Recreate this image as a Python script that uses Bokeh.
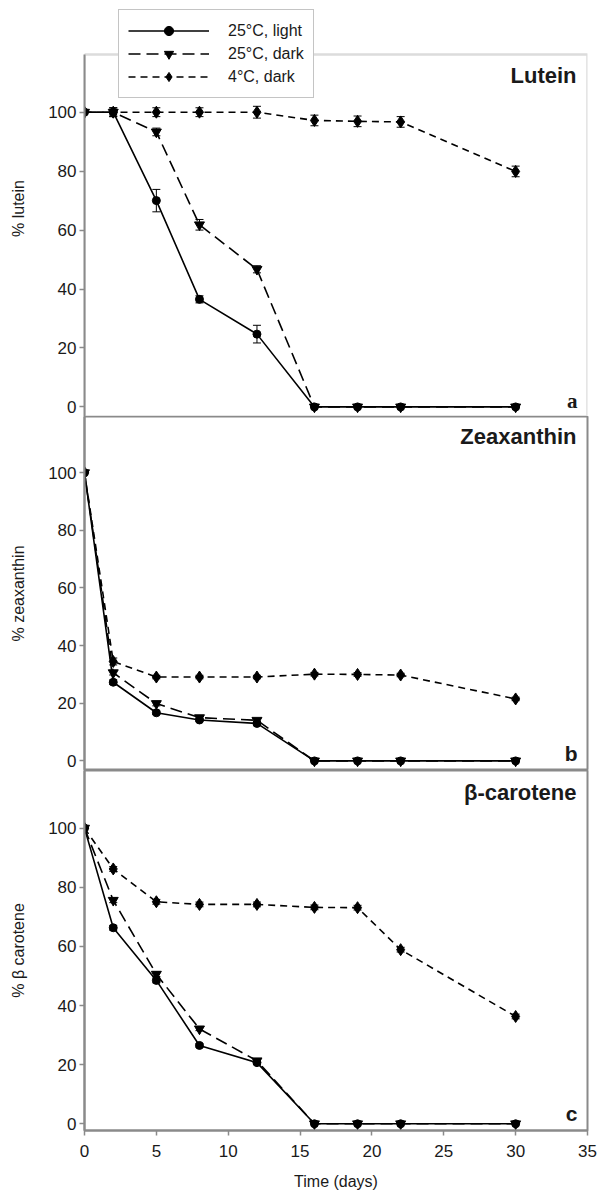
import numpy as np
import pandas as pd
from bokeh.plotting import figure
from bokeh.layouts import column
from bokeh.models import (ColumnDataSource, Whisker, TeeHead, FixedTicker, Label,
                          Legend, LegendItem, Range1d, BoxAnnotation)
from bokeh.embed import file_html
from bokeh.resources import INLINE

# ---------------- data ----------------
days = [0, 2, 5, 8, 12, 16, 19, 22, 30]
series_names = ["25°C, light", "25°C, dark", "4°C, dark"]
x_ticks = [0, 5, 10, 15, 20, 25, 30, 35]
y_ticks = [0, 20, 40, 60, 80, 100]

lutein_light = [100, 100, 70.0, 36.5, 24.7, 0, 0, 0, 0]
lutein_light_err = [0, 1.0, 3.8, 1.2, 3.0, 0, 0, 0, 0]
lutein_dark = [100, 100, 93.3, 61.8, 46.7, 0, 0, 0, 0]
lutein_dark_err = [0, 1.5, 1.3, 1.8, 1.2, 0, 0, 0, 0]
lutein_cold = [100, 100, 100, 100, 100, 97.2, 96.9, 96.7, 79.9]
lutein_cold_err = [0, 1.5, 1.5, 1.5, 2.0, 1.8, 1.8, 1.8, 1.8]

zea_light = [100, 27.3, 16.7, 14.2, 13.0, 0, 0, 0, 0]
zea_light_err = [0, 0.8, 0.6, 0.5, 0.5, 0, 0, 0, 0]
zea_dark = [100, 30.6, 19.9, 15.0, 14.1, 0, 0, 0, 0]
zea_dark_err = [0, 0.8, 0.8, 0.6, 0.6, 0, 0, 0, 0]
zea_cold = [100, 34.5, 29.1, 29.1, 29.1, 30.1, 30.0, 29.8, 21.5]
zea_cold_err = [0, 1.2, 0.6, 0.6, 0.6, 0.6, 0.6, 0.6, 0.6]

beta_light = [100, 66.3, 48.5, 26.5, 20.7, 0, 0, 0, 0]
beta_light_err = [0, 0.8, 0.8, 0.6, 0.6, 0, 0, 0, 0]
beta_dark = [100, 75.6, 50.6, 32.1, 21.3, 0, 0, 0, 0]
beta_dark_err = [0, 0.8, 0.8, 0.6, 0.6, 0, 0, 0, 0]
beta_cold = [100, 86.2, 75.1, 74.2, 74.2, 73.2, 73.1, 58.9, 36.3]
beta_cold_err = [0, 0.8, 0.8, 0.8, 0.8, 0.8, 0.8, 0.8, 0.8]

# ---------------- style ----------------
FONT = "Liberation Sans"
TXT = "#1a1a1a"
GRAY = "#8a8a8a"
dashes = ["solid", "12 6", "7 5"]
markers = ["circle", "inverted_triangle", "diamond"]
msizes = [8, 10, 12]

LEFT, RIGHT = 84, 13
FRAME_W = 503


def style_axis(ax, label):
    ax.axis_label = label
    ax.axis_label_text_font = FONT
    ax.axis_label_text_font_size = "16px"
    ax.axis_label_text_font_style = "normal"
    ax.axis_label_text_color = TXT
    ax.major_label_text_font = FONT
    ax.major_label_text_font_size = "17px"
    ax.major_label_text_color = TXT
    ax.axis_line_color = GRAY
    ax.axis_line_width = 2
    ax.major_tick_line_color = GRAY
    ax.major_tick_line_width = 1.5
    ax.major_tick_out = 5
    ax.major_tick_in = 0
    ax.minor_tick_line_color = None


def make_panel(vals, errs, ylabel, title, letter, letter_font, frame_h, yr,
               box_top, title_y, letter_y, bottom, show_x, with_legend):
    p = figure(frame_width=FRAME_W, frame_height=frame_h,
               x_range=Range1d(0, 35), y_range=Range1d(*yr),
               output_backend="svg", toolbar_location=None,
               x_axis_location="below" if show_x else None,
               min_border_left=LEFT, min_border_right=RIGHT,
               min_border_top=0, min_border_bottom=bottom,
               background_fill_color="white", border_fill_color="white")
    p.xgrid.visible = False
    p.ygrid.visible = False

    if box_top is None:
        p.outline_line_color = GRAY
        p.outline_line_width = 2
    else:
        # panel frame drawn as a box inside an extended plotting area
        p.outline_line_color = None
        p.add_layout(BoxAnnotation(left=0, right=35, bottom=yr[0], top=box_top,
                                   fill_alpha=0, line_color=GRAY, line_width=2.5))

    ax = p.yaxis[0]
    style_axis(ax, ylabel)
    ax.ticker = FixedTicker(ticks=y_ticks)
    ax.axis_label_standoff = 18
    ax.major_label_standoff = 3
    if box_top is not None:
        ax.bounds = (yr[0], box_top)

    if show_x:
        xa = p.xaxis[0]
        style_axis(xa, "Time (days)")
        xa.ticker = FixedTicker(ticks=x_ticks)
        xa.axis_label_standoff = 13
        xa.major_label_standoff = 9

    items = []
    for i, (v, e) in enumerate(zip(vals, errs)):
        df = pd.DataFrame({"x": days, "y": v, "err": e})
        src = ColumnDataSource(df)
        ln = p.line("x", "y", source=src, line_color="black", line_width=1.6,
                    line_dash=dashes[i])
        mk = p.scatter("x", "y", source=src, marker=markers[i], size=msizes[i],
                       fill_color="black", line_color="black")
        edf = df[df["err"] > 0].copy()
        edf["upper"] = edf["y"] + edf["err"]
        edf["lower"] = edf["y"] - edf["err"]
        esrc = ColumnDataSource(edf)
        w = Whisker(source=esrc, base="x", upper="upper", lower="lower",
                    line_color="black", line_width=1,
                    upper_head=TeeHead(size=8, line_color="black", line_width=1),
                    lower_head=TeeHead(size=8, line_color="black", line_width=1))
        p.add_layout(w)
        items.append(LegendItem(label=series_names[i], renderers=[ln, mk]))

    p.add_layout(Label(x=492, y=title_y, x_units="screen", y_units="screen",
                       text=title, text_align="right", text_baseline="middle",
                       text_font=FONT, text_font_size="22px",
                       text_font_style="bold", text_color=TXT))
    p.add_layout(Label(x=493, y=letter_y, x_units="screen", y_units="screen",
                       text=letter, text_align="right", text_baseline="middle",
                       text_font=letter_font, text_font_size="21px",
                       text_font_style="bold", text_color=TXT))

    if with_legend:
        leg = Legend(items=items, location=(34, frame_h - 98),
                     orientation="vertical")
        leg.label_text_font = FONT
        leg.label_text_font_size = "16px"
        leg.label_text_color = TXT
        leg.glyph_width = 81
        leg.glyph_height = 23
        leg.label_height = 23
        leg.label_standoff = 19
        leg.spacing = -1
        leg.padding = 9
        leg.margin = 0
        leg.border_line_color = GRAY
        leg.border_line_width = 1.5
        leg.background_fill_color = "white"
        leg.background_fill_alpha = 1.0
        p.add_layout(leg, "center")
    return p


# panel a: plotting area extended upward so the legend can sit across the top edge
pa = make_panel([lutein_light, lutein_dark, lutein_cold],
                [lutein_light_err, lutein_dark_err, lutein_cold_err],
                "% lutein", "Lutein", "a", "Liberation Serif",
                416, (-3.25, 137.9), 119.6, 416 - 75, 16, 0, False, True)
pb = make_panel([zea_light, zea_dark, zea_cold],
                [zea_light_err, zea_dark_err, zea_cold_err],
                "% zeaxanthin", "Zeaxanthin", "b", FONT,
                354, (-3.33, 119.5), None, 354 - 20, 17, 0, False, False)
pc = make_panel([beta_light, beta_dark, beta_cold],
                [beta_light_err, beta_dark_err, beta_cold_err],
                "% β carotene", "β-carotene", "c", FONT,
                360, (-2.27, 119.5), None, 360 - 22, 17, 64, True, False)

layout = column(pa, pb, pc, spacing=0)
open("out.html", "w").write(file_html(layout, INLINE))
